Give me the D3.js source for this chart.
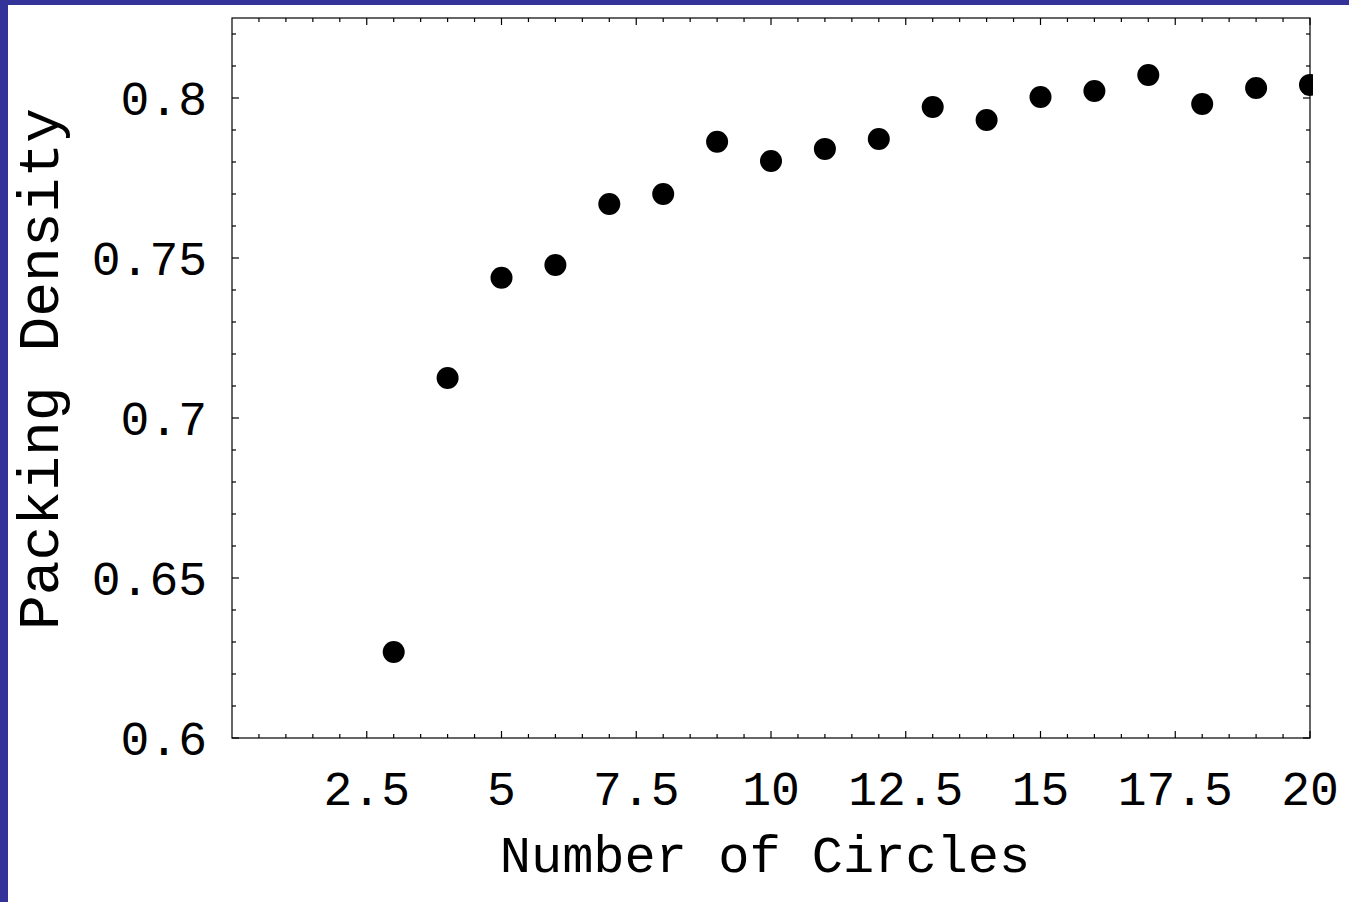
<!DOCTYPE html>
<html>
<head>
<meta charset="utf-8">
<script src="https://cdn.jsdelivr.net/npm/d3@7"></script>
<style>
  html, body { margin: 0; padding: 0; background: #fff; }
  svg { display: block; }
  text { font-family: "Liberation Mono", "Courier New", monospace; fill: #000; }
</style>
</head>
<body>
<div id="chart"></div>
<script>
const circles = [3, 4, 5, 6, 7, 8, 9, 10, 11, 12, 13, 14, 15, 16, 17, 18, 19, 20]
const density = [0.6269, 0.7125, 0.7438, 0.7478, 0.7669, 0.7700, 0.7863, 0.7803, 0.7841,
  0.7872, 0.7972, 0.7931, 0.8003, 0.8022, 0.8072, 0.7981, 0.8031, 0.8041]
const xTicks = [2.5, 5, 7.5, 10, 12.5, 15, 17.5, 20]
const yTicks = [0.6, 0.65, 0.7, 0.75, 0.8]

const width = 1349, height = 902
const frame = { left: 232, top: 18, right: 1310, bottom: 738 }

const svg = d3.select("#chart").append("svg").attr("width", width).attr("height", height)

// slide border
svg.append("rect").attr("x", 0).attr("y", 0).attr("width", width).attr("height", 5).attr("fill", "#333399")
svg.append("rect").attr("x", 0).attr("y", 0).attr("width", 8).attr("height", height).attr("fill", "#333399")

const x = d3.scaleLinear().domain([0, 20]).range([frame.left, frame.right])
const y = d3.scaleLinear().domain([0.6, 0.825]).range([frame.bottom, frame.top])

const xMinor = d3.range(1, 40).map(d => d / 2).filter(d => !xTicks.includes(d))
const yMinor = d3.range(61, 83).map(d => d / 100).filter(d => !yTicks.some(t => Math.abs(t - d) < 1e-9))

const g = svg.append("g").attr("stroke", "#000").attr("stroke-width", 1.2)
g.append("rect").attr("x", frame.left).attr("y", frame.top)
  .attr("width", frame.right - frame.left).attr("height", frame.bottom - frame.top)
  .attr("fill", "none")

const tickLen = (major) => major ? 7 : 4
for (const [vals, major] of [[xTicks, true], [xMinor, false]]) {
  for (const v of vals) {
    const px = x(v), L = tickLen(major)
    g.append("line").attr("x1", px).attr("x2", px).attr("y1", frame.bottom).attr("y2", frame.bottom - L)
    g.append("line").attr("x1", px).attr("x2", px).attr("y1", frame.top).attr("y2", frame.top + L)
  }
}
for (const [vals, major] of [[yTicks, true], [yMinor, false]]) {
  for (const v of vals) {
    const py = y(v), L = tickLen(major)
    g.append("line").attr("y1", py).attr("y2", py).attr("x1", frame.left).attr("x2", frame.left + L)
    g.append("line").attr("y1", py).attr("y2", py).attr("x1", frame.right).attr("x2", frame.right - L)
  }
}

svg.append("g").selectAll("text").data(xTicks).join("text")
  .attr("x", d => x(d)).attr("y", 805).attr("text-anchor", "middle")
  .style("font-size", "48px").text(d => d)

svg.append("g").selectAll("text").data(yTicks).join("text")
  .attr("x", 207).attr("y", d => y(d)).attr("dy", "0.35em").attr("text-anchor", "end")
  .style("font-size", "48px").text(d => d)

svg.append("text").attr("x", 765).attr("y", 872).attr("text-anchor", "middle")
  .style("font-size", "52px").text("Number of Circles")
svg.append("text").attr("transform", `translate(58,369) rotate(-90)`).attr("text-anchor", "middle")
  .style("font-size", "58px").text("Packing Density")

svg.append("clipPath").attr("id", "clip").append("rect")
  .attr("x", frame.left).attr("y", frame.top)
  .attr("width", frame.right - frame.left + 3).attr("height", frame.bottom - frame.top)

svg.append("g").attr("clip-path", "url(#clip)").selectAll("circle")
  .data(circles.map((c, i) => ({ c, d: density[i] })))
  .join("circle")
  .attr("cx", d => x(d.c)).attr("cy", d => y(d.d)).attr("r", 11).attr("fill", "#000")
</script>
</body>
</html>
